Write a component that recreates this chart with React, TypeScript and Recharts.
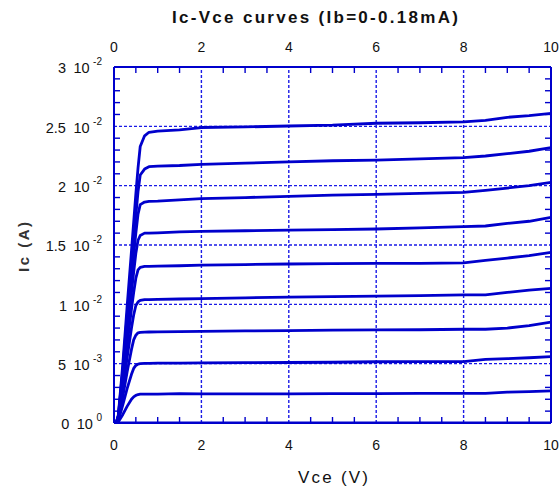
import React from "react";
import { LineChart, Line, XAxis, YAxis, ReferenceLine } from "recharts";

const vce = [0, 0.05, 0.1, 0.2, 0.3, 0.4, 0.45, 0.5, 0.55, 0.6, 0.7, 0.8, 1, 1.5, 2, 3, 4, 5, 6, 7, 8, 8.5, 9, 9.5, 10];

const ic0 = [0, 0, 0, 0, 0, 0, 0, 0, 0, 0, 0, 0, 0, 0, 0, 0, 0, 0, 0, 0, 0, 0, 0, 0, 0];
const ic1 = [0, 0, 0.0001, 0.0007, 0.0014, 0.002, 0.0022, 0.00233, 0.0024, 0.00243, 0.00244, 0.00244, 0.00244, 0.00247, 0.00245, 0.00245, 0.00246, 0.00247, 0.00248, 0.00249, 0.0025, 0.0025, 0.0026, 0.00265, 0.0027];
const ic2 = [0, 0, 0.0002, 0.0015, 0.0029, 0.0041, 0.0046, 0.00485, 0.00496, 0.005, 0.00502, 0.00503, 0.00504, 0.00505, 0.00507, 0.00509, 0.0051, 0.00512, 0.00516, 0.00517, 0.00518, 0.00537, 0.00542, 0.0055, 0.00559];
const ic3 = [0, 0, 0.0003, 0.0022, 0.0043, 0.0062, 0.007, 0.0074, 0.0076, 0.00764, 0.00766, 0.00767, 0.00768, 0.0077, 0.00772, 0.00776, 0.00779, 0.00782, 0.00784, 0.00786, 0.0079, 0.0079, 0.008, 0.0082, 0.0085];
const ic4 = [0, 0, 0.0004, 0.0028, 0.0055, 0.008, 0.0091, 0.0099, 0.0102, 0.01033, 0.0104, 0.0104, 0.01042, 0.01045, 0.01048, 0.01055, 0.0106, 0.01065, 0.0107, 0.01073, 0.0108, 0.0108, 0.011, 0.0112, 0.01135];
const ic5 = [0, 0, 0.0005, 0.0034, 0.0066, 0.0096, 0.011, 0.0122, 0.0129, 0.01312, 0.0132, 0.0132, 0.01322, 0.01325, 0.0133, 0.01335, 0.0134, 0.01343, 0.01346, 0.01346, 0.0135, 0.0137, 0.0139, 0.0141, 0.01438];
const ic6 = [0, 0, 0.0005, 0.0038, 0.0075, 0.011, 0.0127, 0.0143, 0.0154, 0.0158, 0.016, 0.016, 0.01603, 0.0161, 0.01615, 0.0162, 0.01625, 0.0163, 0.01635, 0.01645, 0.01654, 0.0166, 0.01682, 0.017, 0.01733];
const ic7 = [0, 0, 0.0006, 0.0042, 0.0083, 0.0122, 0.0141, 0.016, 0.0176, 0.0184, 0.01862, 0.01868, 0.0187, 0.0188, 0.0189, 0.019, 0.0191, 0.0192, 0.01927, 0.01935, 0.01944, 0.0196, 0.0198, 0.02, 0.02028];
const ic8 = [0, 0, 0.0006, 0.0045, 0.009, 0.0133, 0.0154, 0.0175, 0.0195, 0.0209, 0.0214, 0.0216, 0.02165, 0.0217, 0.0218, 0.0219, 0.022, 0.0221, 0.02216, 0.02225, 0.02236, 0.0225, 0.0227, 0.0229, 0.0232];
const ic9 = [0, 0, 0.0007, 0.0049, 0.0098, 0.0145, 0.0169, 0.0193, 0.0215, 0.0233, 0.0242, 0.0245, 0.0246, 0.0247, 0.0249, 0.02495, 0.02503, 0.0251, 0.02526, 0.0253, 0.02537, 0.0255, 0.02576, 0.0259, 0.0261];

const series = [ic0, ic1, ic2, ic3, ic4, ic5, ic6, ic7, ic8, ic9];

const xMajorTicks = [0, 2, 4, 6, 8, 10];
const xAllTicks = [0, 0.5, 1, 1.5, 2, 2.5, 3, 3.5, 4, 4.5, 5, 5.5, 6, 6.5, 7, 7.5, 8, 8.5, 9, 9.5, 10];
const yMajorTicks = [0, 0.005, 0.01, 0.015, 0.02, 0.025, 0.03];
const yTickMantissa = ["0", "5", "1", "1.5", "2", "2.5", "3"];
const yTickExponent = ["0", "-3", "-2", "-2", "-2", "-2", "-2"];
const yAllTicks = [
  0, 0.001, 0.002, 0.003, 0.004, 0.005, 0.006, 0.007, 0.008, 0.009, 0.01,
  0.011, 0.012, 0.013, 0.014, 0.015, 0.016, 0.017, 0.018, 0.019, 0.02,
  0.021, 0.022, 0.023, 0.024, 0.025, 0.026, 0.027, 0.028, 0.029, 0.03,
];
const xGrid = [2, 4, 6, 8];
const yGrid = [0.005, 0.01, 0.015, 0.02, 0.025];

const title = "Ic-Vce curves (Ib=0-0.18mA)";
const xLabel = "Vce (V)";
const yLabel = "Ic (A)";

const BLUE = "#0000cc";
const GRID = "#1a1ae6";
const FONT = "'Liberation Sans', Arial, sans-serif";

const data = vce.map((v, i) => {
  const row: any = { v };
  series.forEach((s, k) => {
    row["c" + k] = s[i];
  });
  return row;
});

const isMajorX = (v: number) => xMajorTicks.some((t) => Math.abs(t - v) < 1e-9);
const majorYIndex = (v: number) => yMajorTicks.findIndex((t) => Math.abs(t - v) < 1e-9);

const BottomTick = (props: any) => {
  const { x, y, payload } = props;
  const major = isMajorX(payload.value);
  return (
    <g>
      {!major && <line x1={x} x2={x} y1={y} y2={y - 6} stroke={BLUE} strokeWidth={1.4} />}
      {major && (
        <text x={x} y={y + 27} textAnchor="middle" fontSize={14} fontFamily={FONT} fill="#111">
          {payload.value}
        </text>
      )}
    </g>
  );
};

const TopTick = (props: any) => {
  const { x, y, payload } = props;
  const major = isMajorX(payload.value);
  return (
    <g>
      {!major && <line x1={x} x2={x} y1={y} y2={y + 6} stroke={BLUE} strokeWidth={1.4} />}
      {major && (
        <text x={x} y={y - 15} textAnchor="middle" fontSize={14} fontFamily={FONT} fill="#111">
          {payload.value}
        </text>
      )}
    </g>
  );
};

const LeftTick = (props: any) => {
  const { x, y, payload } = props;
  const idx = majorYIndex(payload.value);
  return (
    <g>
      {idx < 0 && <line x1={x} x2={x + 6} y1={y} y2={y} stroke={BLUE} strokeWidth={1.4} />}
      {idx >= 0 && (
        <text x={x - 12} y={y + 6.4} textAnchor="end" fontSize={14.5} fontFamily={FONT} fill="#111">
          <tspan>{yTickMantissa[idx]}</tspan>
          <tspan dx={7.5}>10</tspan>
          <tspan dx={3.5} dy={-8} fontSize={10}>{yTickExponent[idx]}</tspan>
        </text>
      )}
    </g>
  );
};

const RightTick = (props: any) => {
  const { x, y, payload } = props;
  const idx = majorYIndex(payload.value);
  return idx < 0 ? <line x1={x} x2={x - 6} y1={y} y2={y} stroke={BLUE} strokeWidth={1.4} /> : <g />;
};

export default function App() {
  return (
    <div style={{ position: "absolute", left: 0, top: 0, width: 559, height: 489, background: "#fff" }}>
      <LineChart width={559} height={489} data={data} margin={{ top: 0, right: 0, bottom: 0, left: 0 }}>
        <XAxis
          xAxisId="b"
          dataKey="v"
          type="number"
          domain={[0, 10]}
          ticks={xAllTicks}
          interval={0}
          orientation="bottom"
          height={66}
          tickSize={0}
          tickMargin={0}
          tickLine={false}
          axisLine={{ stroke: BLUE, strokeWidth: 2 }}
          tick={<BottomTick />}
          allowDataOverflow
        />
        <XAxis
          xAxisId="t"
          dataKey="v"
          type="number"
          domain={[0, 10]}
          ticks={xAllTicks}
          interval={0}
          orientation="top"
          height={67}
          tickSize={0}
          tickMargin={0}
          tickLine={false}
          axisLine={{ stroke: BLUE, strokeWidth: 2 }}
          tick={<TopTick />}
          allowDataOverflow
        />
        <YAxis
          yAxisId="l"
          type="number"
          domain={[0, 0.03]}
          ticks={yAllTicks}
          interval={0}
          orientation="left"
          width={114}
          tickSize={0}
          tickMargin={0}
          tickLine={false}
          axisLine={{ stroke: BLUE, strokeWidth: 2 }}
          tick={<LeftTick />}
          allowDataOverflow
        />
        <YAxis
          yAxisId="r"
          type="number"
          domain={[0, 0.03]}
          ticks={yAllTicks}
          interval={0}
          orientation="right"
          width={8}
          tickSize={0}
          tickMargin={0}
          tickLine={false}
          axisLine={{ stroke: BLUE, strokeWidth: 2 }}
          tick={<RightTick />}
          allowDataOverflow
        />
        {xGrid.map((g) => (
          <ReferenceLine key={"x" + g} x={g} xAxisId="b" yAxisId="l" stroke={GRID} strokeDasharray="3 2" strokeWidth={1.4} />
        ))}
        {yGrid.map((g) => (
          <ReferenceLine key={"y" + g} y={g} xAxisId="b" yAxisId="l" stroke={GRID} strokeDasharray="3 2" strokeWidth={1.4} />
        ))}
        {series.map((_, k) => (
          <Line
            key={k}
            xAxisId="b"
            yAxisId="l"
            type="linear"
            dataKey={"c" + k}
            stroke={BLUE}
            strokeWidth={2.8}
            dot={false}
            isAnimationActive={false}
            strokeLinejoin="round"
          />
        ))}
      </LineChart>
      <svg
        width={559}
        height={489}
        style={{ position: "absolute", left: 0, top: 0, pointerEvents: "none" }}
      >
        <text
          x={172}
          y={22.5}
          fontFamily={FONT}
          fontWeight="bold"
          fontSize={17}
          fill="#111"
          textLength={286}
          lengthAdjust="spacing"
        >
          {title}
        </text>
        <text
          x={298}
          y={483}
          fontFamily={FONT}
          fontSize={17}
          fill="#111"
          textLength={70}
          lengthAdjust="spacing"
        >
          {xLabel}
        </text>
        <text
          x={0}
          y={0}
          transform="translate(28.5 272) rotate(-90)"
          fontFamily={FONT}
          fontWeight="bold"
          fontSize={15}
          fill="#333"
          textLength={50}
          lengthAdjust="spacing"
        >
          {yLabel}
        </text>
      </svg>
    </div>
  );
}
